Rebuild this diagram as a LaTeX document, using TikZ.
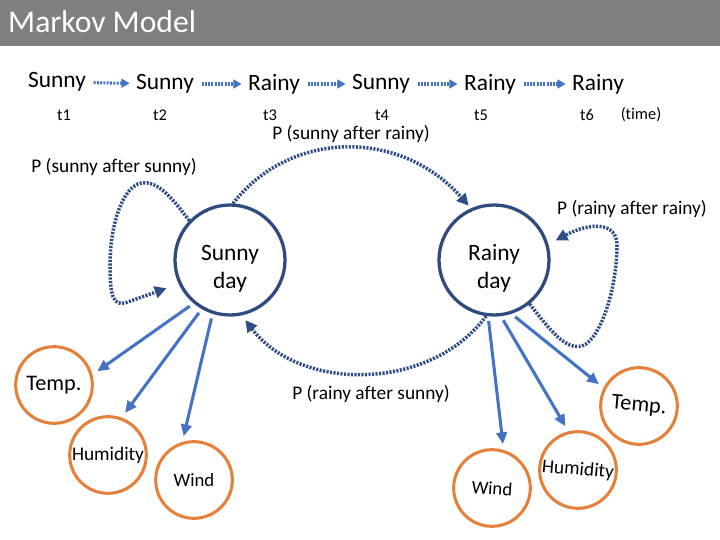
\documentclass[tikz,border=0pt]{standalone}
\usepackage{fontspec}
\setmainfont[Ligatures=NoCommon]{Carlito}
\usepackage{graphicx}
\usepackage{tikz}
\usetikzlibrary{arrows.meta,positioning}
\definecolor{barGray}{RGB}{127,127,127}
\definecolor{stateBlue}{RGB}{47,75,125}
\definecolor{emitBlue}{RGB}{68,114,196}
\definecolor{obsOrange}{RGB}{228,128,58}
\definecolor{transBlue}{RGB}{47,78,135}

\begin{document}
\begin{tikzpicture}[x=0.03cm,y=-0.03cm,
    state/.style={circle,draw=stateBlue,line width=2.8pt,minimum size=3.3cm,
                 inner sep=0pt,align=center,font=\fontsize{20}{24}\selectfont},
    obs/.style={circle,draw=obsOrange,line width=2.6pt,minimum size=2.3cm,inner sep=0pt},
    seq/.style={font=\fontsize{20}{24}\selectfont},
    tick/.style={font=\fontsize{14}{16}\selectfont},
    prob/.style={font=\fontsize{16.5}{20}\selectfont},
    hop/.style={emitBlue,line width=2.6pt,dash pattern=on 1.7pt off 1.1pt,
               -{Triangle[length=7pt,width=7.5pt]},shorten <=3pt,shorten >=2pt},
    emit/.style={emitBlue,line width=2.6pt,-{Triangle[length=10pt,width=9pt]},
                shorten <=4pt,shorten >=5pt},
    trans/.style={transBlue,line width=3pt,dash pattern=on 1.8pt off 1.2pt,
                 -{Triangle[length=10pt,width=10pt]}}
  ]
  \useasboundingbox (0,0) rectangle (720,540);
  \fill[barGray] (0,0) rectangle (720,46);
  \node[anchor=west,text=white,inner sep=0pt,font=\fontsize{27}{32}\selectfont] (title) at (8,22) {Markov Model};

  \node[seq] (s1) at (57,82) {Sunny};
  \node[seq] (s2) at (165,84) {Sunny};
  \node[seq] (r3) at (274,84) {Rainy};
  \node[seq] (s4) at (381,84) {Sunny};
  \node[seq] (r5) at (490,84) {Rainy};
  \node[seq] (r6) at (598,84) {Rainy};
  \foreach \a/\b in {s1/s2,s2/r3,r3/s4,s4/r5,r5/r6}
    \draw[hop] (\a) -- (\b);

  \node[tick] (t1) at (64,115) {t1};
  \node[tick] (t2) at (160,115) {t2};
  \node[tick] (t3) at (270,115) {t3};
  \node[tick] (t4) at (382,115) {t4};
  \node[tick] (t5) at (481,115) {t5};
  \node[tick] (t6) at (587,115) {t6};
  \node[tick] (time) at (641,115) {(time)};

  \node[state] (sunnyday) at (230,260) {\rule{0pt}{28pt}Sunny\\day};
  \node[state] (rainyday) at (494,260) {\rule{0pt}{28pt}Rainy\\day};

  \node[obs,font=\fontsize{19}{22}\selectfont] (ltemp) at (54,385) {Temp.};
  \node[obs,font=\fontsize{16.5}{20}\selectfont] (lhum) at (108,455) {Humidity};
  \node[obs,font=\fontsize{16}{20}\selectfont] (lwind) at (194,480) {Wind};
  \node[obs,font=\fontsize{16}{20}\selectfont] (rwind) at (492,488) {\rotatebox{-4}{Wind}};
  \node[obs,font=\fontsize{16.5}{20}\selectfont] (rhum) at (578,470) {\rotatebox{-5}{Humidity}};
  \node[obs,font=\fontsize{19}{22}\selectfont] (rtemp) at (639,406) {\rotatebox{-5}{Temp.}};

  \draw[emit] (sunnyday.230) -- (ltemp.15);
  \draw[emit] (sunnyday.240) -- (lhum.70);
  \draw[emit] (sunnyday.252) -- (lwind.107);
  \draw[emit] (rainyday.264) -- (rwind.73);
  \draw[emit] (rainyday.277) -- (rhum.104);
  \draw[emit] (rainyday.288) -- (rtemp.153);

  \draw[trans,shorten >=11pt] (sunnyday.136) .. controls (170,195) and (155,178) .. (138,184)
    .. controls (120,192) and (110,230) .. (110,265)
    .. controls (110,295) and (113,306) .. (125,303) -- (sunnyday.205);
  \draw[trans,shorten >=3pt] (sunnyday.87) .. controls (290,130) and (400,128) .. (rainyday.114);
  \draw[trans,shorten >=7pt] (rainyday.309) .. controls (550,330) and (565,350) .. (582,346)
    .. controls (600,340) and (617,290) .. (617,245)
    .. controls (617,222) and (590,222) .. (rainyday.16);
  \draw[trans,shorten >=5pt] (rainyday.262) .. controls (430,392) and (300,392) .. (sunnyday.282);

  \node[prob] (psr) at (351,134) {P (sunny after rainy)};
  \node[prob] (pss) at (114,167) {P (sunny after sunny)};
  \node[prob] (prr) at (632,209) {P (rainy after rainy)};
  \node[prob] (prs) at (371,394) {P (rainy after sunny)};
\end{tikzpicture}
\end{document}
